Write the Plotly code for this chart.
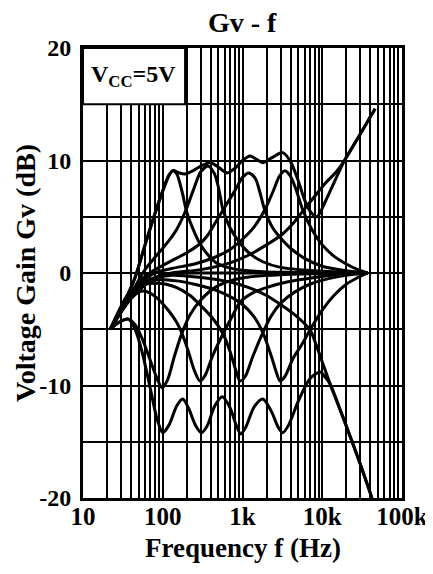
import plotly.graph_objects as go

# ---- data (frequency Hz, gain dB) ----
flat_f = [22, 30, 40, 55, 70, 100, 150, 200, 37000]
flat_g = [-5, -3.5, -2.3, -1.3, -0.7, -0.2, 0, 0, 0]

boost100_f = [22, 28, 35, 45, 60, 80, 100, 120, 134, 150, 175, 200, 240, 293, 370, 470, 650, 1000, 2000, 5000, 15000, 37000]
boost100_g = [-5, -3.6, -2.2, -0.4, 2.5, 5.3, 7.3, 8.7, 9.1, 8.8, 7.2, 5.4, 3.9, 2.6, 1.6, 0.9, 0.5, 0.25, 0.1, 0.05, 0, 0]

boost300_f = [22, 28, 35, 45, 60, 80, 100, 120, 150, 190, 240, 300, 370, 440, 500, 570, 700, 900, 1200, 1800, 3000, 8000, 37000]
boost300_g = [-5, -3.8, -2.6, -1.2, 0.3, 1.4, 2.2, 2.9, 3.9, 5.4, 7.3, 9.0, 9.5, 8.9, 7.6, 5.6, 4.0, 2.8, 1.8, 1.0, 0.5, 0.2, 0]

boost1k_f = [22, 28, 35, 45, 60, 90, 130, 200, 293, 370, 450, 570, 800, 1000, 1200, 1450, 1650, 1900, 2400, 3100, 4000, 6000, 10000, 20000, 37000]
boost1k_g = [-5, -3.6, -2.4, -1.3, -0.3, 0.5, 1.1, 1.8, 2.6, 3.4, 4.4, 5.6, 7.3, 8.5, 8.9, 8.4, 7.2, 5.6, 4.0, 3.0, 2.2, 1.3, 0.6, 0.2, 0]

boost3k_f = [22, 30, 40, 55, 80, 130, 250, 450, 700, 1000, 1400, 1900, 2400, 2900, 3400, 4000, 4700, 5700, 7500, 10000, 14000, 20000, 28000, 37000]
boost3k_g = [-5, -3.1, -1.9, -0.8, 0.0, 0.4, 0.8, 1.4, 2.1, 3.0, 4.1, 5.6, 7.2, 8.6, 9.1, 8.6, 7.4, 5.6, 3.8, 2.5, 1.5, 0.8, 0.3, 0]

boost10k_f = [22, 30, 40, 55, 80, 130, 300, 700, 1200, 2000, 3100, 4300, 5700, 8000, 11000, 15000, 19000, 28000, 46000]
boost10k_g = [-5, -3.3, -2.0, -1.0, -0.4, 0, 0.3, 0.9, 1.6, 2.5, 3.4, 4.4, 5.5, 6.8, 8.0, 9.0, 10.0, 12.0, 14.6]

allboost_f = [22, 28, 35, 45, 60, 80, 100, 120, 134, 160, 190, 240, 300, 390, 480, 640, 800, 1000, 1240, 1500, 1800, 2400, 3200, 4000, 5000, 6000, 7200, 8600, 11000, 14000, 19000, 28000, 46000]
allboost_g = [-5, -3.6, -2.2, -0.4, 2.5, 5.3, 7.3, 8.7, 9.1, 8.9, 8.8, 9.1, 9.5, 9.8, 9.5, 8.9, 9.3, 10.0, 10.4, 10.1, 9.8, 10.3, 10.7, 9.9, 8.2, 6.5, 5.4, 5.0, 6.4, 8.0, 10.0, 12.0, 14.6]

cut100_f = [22, 28, 37, 45, 55, 70, 85, 98, 115, 140, 175, 220, 300, 450, 700, 1200, 3000, 10000, 37000]
cut100_g = [-5, -4.4, -4.1, -4.6, -5.8, -7.8, -9.4, -10.2, -9.5, -7.4, -5.3, -3.7, -2.4, -1.3, -0.7, -0.35, -0.15, -0.05, 0]

cut300_f = [22, 28, 35, 45, 56, 70, 90, 120, 150, 175, 210, 250, 293, 340, 420, 570, 750, 930, 1400, 2200, 3600, 8000, 15000, 37000]
cut300_g = [-5, -3.6, -2.6, -1.9, -1.6, -1.8, -2.4, -3.4, -4.4, -5.4, -7.0, -8.7, -9.6, -9.1, -7.4, -5.4, -3.8, -2.6, -1.7, -1.2, -0.8, -0.4, -0.15, 0]

cut1k_f = [22, 28, 35, 45, 60, 80, 110, 150, 220, 300, 420, 570, 700, 820, 930, 1080, 1350, 1800, 2300, 3000, 4500, 7000, 12000, 20000, 37000]
cut1k_g = [-5, -3.5, -2.3, -1.5, -1.0, -0.9, -1.0, -1.3, -2.0, -2.9, -4.0, -5.4, -7.0, -8.6, -9.6, -9.2, -7.4, -5.3, -3.8, -2.7, -1.7, -1.0, -0.5, -0.2, 0]

cut3k_f = [22, 28, 35, 45, 60, 90, 150, 250, 450, 700, 1000, 1400, 1800, 2300, 2650, 2950, 3400, 4300, 5500, 7100, 10000, 14000, 20000, 28000, 37000]
cut3k_g = [-5, -3.4, -2.1, -1.3, -0.8, -0.6, -0.7, -1.0, -1.5, -2.1, -2.8, -3.9, -5.3, -7.4, -8.8, -9.6, -9.2, -7.6, -6.4, -5.0, -3.3, -2.0, -1.0, -0.4, 0]

cut10k_f = [22, 30, 40, 55, 80, 130, 300, 700, 1200, 2000, 3000, 4500, 5800, 7100, 8500, 10000, 12600, 20000, 30000, 42000]
cut10k_g = [-5, -3.4, -2.1, -1.1, -0.5, -0.2, -0.4, -0.8, -1.3, -2.0, -2.8, -3.7, -4.4, -5.1, -6.5, -7.9, -9.9, -13.6, -17.0, -20]

allcut_f = [22, 28, 37, 45, 55, 70, 85, 100, 120, 150, 178, 210, 260, 305, 360, 450, 560, 700, 830, 950, 1100, 1400, 1800, 2300, 2800, 3200, 3800, 5000, 7000, 9400, 11000, 12600, 20000, 30000, 42000]
allcut_g = [-5, -4.4, -4.1, -5.0, -7.0, -10.3, -13.0, -14.2, -13.5, -11.8, -11.2, -12.0, -13.6, -14.2, -13.6, -11.8, -11.0, -12.0, -13.5, -14.3, -13.7, -11.9, -11.2, -12.3, -13.7, -14.2, -13.5, -11.4, -9.4, -8.8, -9.3, -9.9, -13.6, -17.0, -20]

curves = [
    (flat_f, flat_g), (boost100_f, boost100_g), (boost300_f, boost300_g),
    (boost1k_f, boost1k_g), (boost3k_f, boost3k_g), (boost10k_f, boost10k_g),
    (allboost_f, allboost_g), (cut100_f, cut100_g), (cut300_f, cut300_g),
    (cut1k_f, cut1k_g), (cut3k_f, cut3k_g), (cut10k_f, cut10k_g),
    (allcut_f, allcut_g),
]

x_ticks = [m * 10 ** e for e in range(1, 5) for m in range(1, 10)] + [100000]
x_labels = {10: "10", 100: "100", 1000: "1k", 10000: "10k", 100000: "100k"}
y_ticks = [-20, -15, -10, -5, 0, 5, 10, 15, 20]
y_labels = {-20: "-20", -10: "-10", 0: "0", 10: "10", 20: "20"}

FONT = "Liberation Serif"

fig = go.Figure()
for f, g in curves:
    fig.add_trace(go.Scatter(x=f, y=g, mode="lines",
                             line=dict(color="black", width=3, shape="spline", smoothing=0.8),
                             hoverinfo="skip", showlegend=False))

# page body has an 8px default margin, so the figure is sized to fit the window
fig.update_layout(
    width=425, height=566,
    margin=dict(l=75, r=31, t=40, b=76, autoexpand=False),
    paper_bgcolor="white", plot_bgcolor="white",
    font=dict(family=FONT, color="black", size=24),
    showlegend=False,
)
fig.update_xaxes(
    type="log", range=[1, 5], automargin=False,
    tickmode="array", tickvals=x_ticks,
    ticktext=["<b>%s</b>" % x_labels[v] if v in x_labels else "" for v in x_ticks],
    showgrid=True, gridcolor="black", gridwidth=2,
    showline=True, linecolor="black", linewidth=3, mirror=True,
    ticks="", zeroline=False, ticklabelstandoff=-6,
    tickfont=dict(family=FONT, size=25, color="black"),
)
fig.update_yaxes(
    range=[-20, 20], automargin=False,
    tickmode="array", tickvals=y_ticks,
    ticktext=["<b>%s</b>" % y_labels[v] if v in y_labels else "" for v in y_ticks],
    showgrid=True, gridcolor="black", gridwidth=2,
    showline=True, linecolor="black", linewidth=3, mirror=True,
    ticks="", zeroline=False, ticklabelstandoff=4,
    tickfont=dict(family=FONT, size=24, color="black"),
)

# titles
fig.add_annotation(xref="paper", yref="paper", x=0.5, y=1 + 26 / 450, xanchor="center", yanchor="middle",
                   showarrow=False, text="<b>Gv - f</b>", font=dict(family=FONT, size=28, color="black"))
fig.add_annotation(xref="paper", yref="paper", x=0.5, y=-50 / 450, xanchor="center", yanchor="middle",
                   showarrow=False, text="<b>Frequency f (Hz)</b>", font=dict(family=FONT, size=27, color="black"))
fig.add_annotation(xref="paper", yref="paper", x=-58 / 319, y=0.5, xanchor="center", yanchor="middle",
                   showarrow=False, textangle=-90, text="<b>Voltage Gain Gv (dB)</b>",
                   font=dict(family=FONT, size=28, color="black"))

# Vcc box in upper-left corner
fig.add_shape(type="rect", xref="paper", yref="y", x0=0, x1=0.32, y0=15, y1=20,
              fillcolor="white", line=dict(color="black", width=2), layer="above")
fig.add_annotation(xref="paper", yref="y", x=0.018, xanchor="left", y=17.5, yanchor="middle",
                   showarrow=False,
                   text="<b>V<sub>CC</sub>=5V</b>", font=dict(family=FONT, size=24, color="black"))

fig.write_html("out.html")
